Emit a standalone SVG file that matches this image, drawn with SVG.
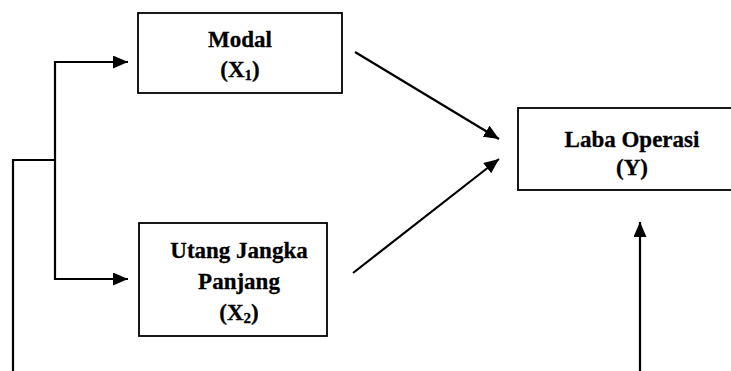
<svg xmlns="http://www.w3.org/2000/svg" width="731" height="371" viewBox="0 0 731 371">
<style>
.box{fill:#fff;stroke:#000;stroke-width:1.8}
.c{fill:none;stroke:#000;stroke-width:2.2}
.a{marker-end:url(#ah)}
</style>
<defs>
<marker id="ah" markerUnits="userSpaceOnUse" markerWidth="16" markerHeight="14" refX="15" refY="6.5" orient="auto">
<path d="M0,0 L15,6.5 L0,13 z" fill="#000"/>
</marker>
</defs>
<rect width="731" height="371" fill="#fff"/>
<g font-family="Liberation Serif, serif" font-weight="bold" font-size="23" fill="#000" stroke="#000" stroke-width="0.3" text-anchor="middle">
<g id="modal">
<rect class="box" x="138" y="13" width="204" height="80"/>
<text x="240" y="47">Modal</text>
<text x="240" y="77">(X<tspan font-size="15" dy="3">1</tspan><tspan dy="-3">)</tspan></text>
</g>
<g id="utang">
<rect class="box" x="139" y="223" width="188" height="113"/>
<text x="239" y="258">Utang Jangka</text>
<text x="239" y="289">Panjang</text>
<text x="239" y="320">(X<tspan font-size="15" dy="3">2</tspan><tspan dy="-3">)</tspan></text>
</g>
<g id="laba">
<rect class="box" x="518" y="108" width="230" height="82"/>
<text x="632" y="147">Laba Operasi</text>
<text x="632" y="175">(Y)</text>
</g>
</g>
<g id="connectors">
<polyline class="c" points="13,371 13,160 55,160"/>
<line class="c" x1="55" y1="61" x2="55" y2="280"/>
<line class="c a" x1="54" y1="62" x2="128" y2="62"/>
<line class="c a" x1="54" y1="279" x2="128" y2="279"/>
<line class="c a" x1="355" y1="52" x2="499" y2="139"/>
<line class="c a" x1="353" y1="273" x2="499" y2="159"/>
<line class="c a" x1="640" y1="371" x2="640" y2="222"/>
</g>
</svg>
